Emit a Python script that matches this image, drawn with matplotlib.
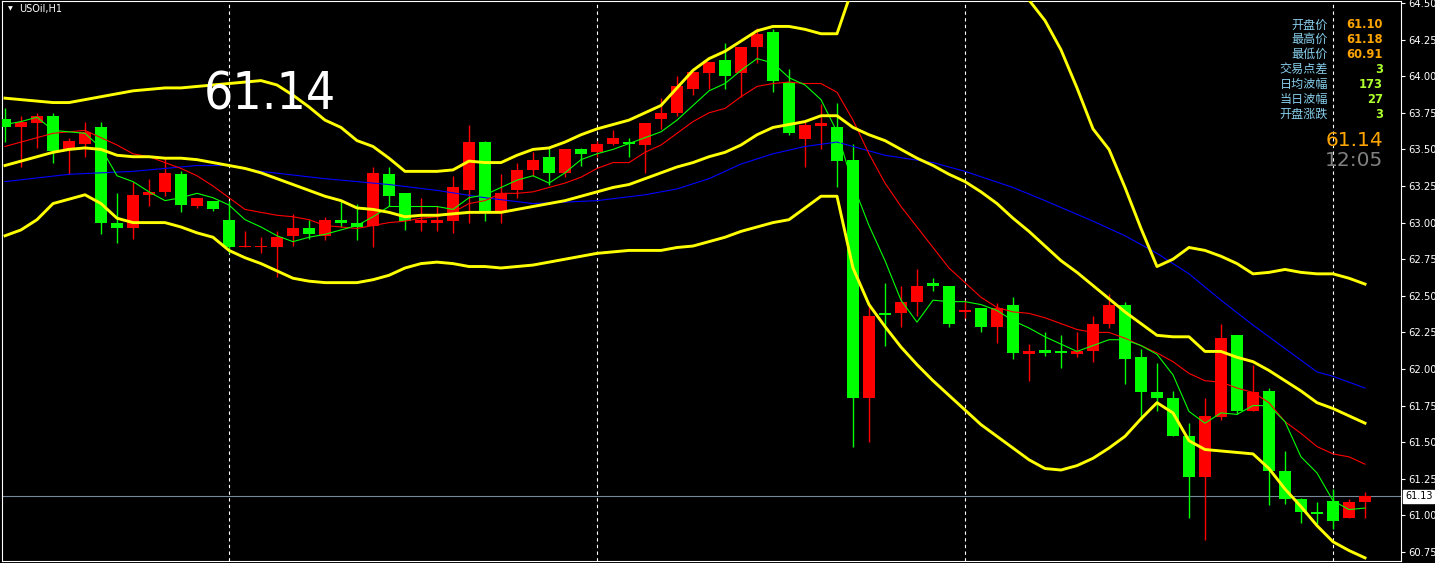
import matplotlib
matplotlib.use('Agg')
import matplotlib.pyplot as plt
import numpy as np
from matplotlib.transforms import blended_transform_factory

# ---------------- data (USOil, H1) ----------------
opens = [63.71, 63.65, 63.68, 63.73, 63.50, 63.54, 63.65, 63.00, 62.96, 63.19,
         63.21, 63.33, 63.11, 63.15, 63.02, 62.83, 62.83, 62.83, 62.91, 62.96,
         62.91, 63.02, 63.00, 62.98, 63.33, 63.20, 63.00, 63.00, 63.01, 63.22,
         63.55, 63.07, 63.22, 63.36, 63.45, 63.34, 63.50, 63.48, 63.54, 63.55,
         63.53, 63.71, 63.75, 63.91, 64.02, 64.11, 64.02, 64.20, 64.30, 63.96,
         63.57, 63.66, 63.65, 63.43, 61.80, 62.38, 62.38, 62.46, 62.59, 62.57,
         62.39, 62.42, 62.29, 62.44, 62.10, 62.13, 62.12, 62.10, 62.12, 62.31,
         62.44, 62.08, 61.84, 61.80, 61.54, 61.26, 61.67, 62.23, 61.71, 61.85,
         61.30, 61.11, 61.02, 61.10, 60.98, 61.09]
highs = [63.78, 63.73, 63.75, 63.75, 63.58, 63.69, 63.69, 63.20, 63.28, 63.30,
         63.44, 63.35, 63.17, 63.15, 63.15, 62.94, 62.90, 62.94, 63.06, 63.02,
         63.04, 63.15, 63.13, 63.38, 63.38, 63.20, 63.17, 63.11, 63.32, 63.67,
         63.56, 63.33, 63.41, 63.48, 63.51, 63.50, 63.51, 63.56, 63.63, 63.58,
         63.68, 63.85, 64.00, 64.03, 64.10, 64.23, 64.20, 64.33, 64.32, 64.05,
         63.69, 63.81, 63.82, 63.54, 62.45, 62.59, 62.57, 62.68, 62.62, 62.57,
         62.47, 62.42, 62.45, 62.49, 62.17, 62.25, 62.23, 62.25, 62.36, 62.51,
         62.46, 62.14, 62.04, 61.85, 61.63, 61.80, 62.31, 62.23, 62.03, 61.87,
         61.44, 61.12, 61.09, 61.18, 61.11, 61.16]
lows = [63.55, 63.38, 63.51, 63.41, 63.33, 63.45, 62.92, 62.86, 62.89, 63.11,
        63.18, 63.07, 63.10, 63.08, 62.79, 62.83, 62.79, 62.63, 62.84, 62.89,
        62.88, 62.97, 62.88, 62.83, 63.11, 62.95, 62.94, 62.94, 62.93, 63.00,
        63.01, 63.00, 63.17, 63.32, 63.26, 63.31, 63.39, 63.45, 63.53, 63.45,
        63.34, 63.64, 63.73, 63.87, 63.91, 63.91, 63.86, 64.09, 63.89, 63.60,
        63.38, 63.50, 63.24, 61.47, 61.50, 62.16, 62.29, 62.36, 62.53, 62.29,
        62.35, 62.25, 62.18, 62.07, 61.92, 62.09, 62.01, 62.08, 62.05, 62.28,
        61.90, 61.65, 61.71, 61.54, 60.98, 60.83, 61.65, 61.69, 61.71, 61.07,
        61.08, 60.95, 60.94, 60.91, 60.98, 60.98]
closes = [63.65, 63.69, 63.73, 63.49, 63.56, 63.62, 63.00, 62.96, 63.19, 63.21,
          63.34, 63.12, 63.17, 63.09, 62.83, 62.84, 62.84, 62.90, 62.96, 62.92,
          63.02, 63.00, 62.97, 63.34, 63.18, 63.01, 63.02, 63.02, 63.24, 63.55,
          63.08, 63.20, 63.36, 63.43, 63.34, 63.50, 63.47, 63.54, 63.58, 63.54,
          63.68, 63.75, 63.93, 64.03, 64.10, 64.00, 64.20, 64.29, 63.97, 63.61,
          63.67, 63.68, 63.42, 61.80, 62.36, 62.37, 62.46, 62.57, 62.57, 62.31,
          62.40, 62.29, 62.42, 62.11, 62.12, 62.11, 62.11, 62.12, 62.31, 62.44,
          62.07, 61.84, 61.80, 61.54, 61.26, 61.68, 62.21, 61.71, 61.84, 61.30,
          61.11, 61.02, 61.01, 60.96, 61.09, 61.13]

# fast MA (green), slow MA (red)
ma_fast = [63.67, 63.69, 63.72, 63.63, 63.62, 63.61, 63.51, 63.32, 63.28, 63.21,
           63.15, 63.17, 63.20, 63.17, 63.12, 63.02, 62.97, 62.91, 62.87, 62.90,
           62.92, 62.95, 62.98, 63.04, 63.11, 63.11, 63.11, 63.11, 63.09, 63.17,
           63.19, 63.24, 63.29, 63.32, 63.27, 63.34, 63.43, 63.47, 63.50, 63.54,
           63.58, 63.62, 63.70, 63.80, 63.90, 63.95, 64.04, 64.12, 64.09, 63.99,
           63.94, 63.84, 63.62, 63.26, 62.98, 62.74, 62.47, 62.32, 62.47, 62.46,
           62.46, 62.44, 62.40, 62.33, 62.28, 62.22, 62.17, 62.12, 62.16, 62.20,
           62.20, 62.16, 62.10, 61.96, 61.71, 61.63, 61.70, 61.69, 61.75, 61.75,
           61.64, 61.40, 61.29, 61.10, 61.04, 61.05]
ma_slow = [63.52, 63.55, 63.58, 63.61, 63.62, 63.63, 63.58, 63.53, 63.47, 63.45,
           63.41, 63.37, 63.32, 63.25, 63.17, 63.09, 63.07, 63.05, 63.04, 63.02,
           62.98, 62.97, 62.96, 62.98, 63.00, 63.01, 63.03, 63.04, 63.07, 63.13,
           63.15, 63.20, 63.20, 63.21, 63.24, 63.27, 63.31, 63.37, 63.41, 63.41,
           63.48, 63.53, 63.61, 63.69, 63.75, 63.78, 63.86, 63.93, 63.95, 63.96,
           63.95, 63.95, 63.89, 63.70, 63.47, 63.27, 63.11, 62.97, 62.83, 62.69,
           62.59, 62.49, 62.42, 62.39, 62.38, 62.35, 62.31, 62.27, 62.25, 62.25,
           62.21, 62.16, 62.11, 62.05, 61.97, 61.92, 61.91, 61.87, 61.84, 61.77,
           61.64, 61.56, 61.47, 61.42, 61.40, 61.35]

# long MA (blue), sampled bars
ma_long_bars = [0, 4, 8, 12, 14, 16, 20, 24, 27, 30, 33, 37, 40, 42, 44, 46, 48, 50,
                52, 53, 55, 58, 60, 63, 65, 68, 70, 72, 74, 76, 78, 80, 82, 83, 85]
ma_long = [63.28, 63.33, 63.35, 63.39, 63.39, 63.35, 63.30, 63.26, 63.22, 63.17,
           63.13, 63.15, 63.19, 63.23, 63.30, 63.40, 63.47, 63.52, 63.55, 63.52,
           63.46, 63.41, 63.35, 63.24, 63.15, 63.01, 62.91, 62.79, 62.65, 62.47,
           62.30, 62.14, 61.98, 61.95, 61.87]

# Bollinger bands (yellow)
bb_upper = [63.85, 63.84, 63.83, 63.82, 63.82, 63.84, 63.86, 63.88, 63.90, 63.91,
            63.92, 63.92, 63.93, 63.94, 63.95, 63.96, 63.97, 63.94, 63.87, 63.79,
            63.70, 63.65, 63.56, 63.52, 63.44, 63.35, 63.35, 63.35, 63.36, 63.42,
            63.41, 63.41, 63.46, 63.50, 63.51, 63.55, 63.60, 63.64, 63.67, 63.70,
            63.75, 63.80, 63.92, 64.04, 64.12, 64.17, 64.24, 64.31, 64.34, 64.34,
            64.32, 64.29, 64.29, 64.61, 64.76, 64.83, 64.85, 64.85, 64.86, 64.84,
            64.84, 64.80, 64.72, 64.60, 64.52, 64.38, 64.18, 63.92, 63.64, 63.50,
            63.24, 62.96, 62.70, 62.75, 62.83, 62.81, 62.77, 62.72, 62.65, 62.66,
            62.68, 62.66, 62.65, 62.65, 62.62, 62.58]
bb_middle = [63.39, 63.42, 63.45, 63.48, 63.50, 63.51, 63.50, 63.46, 63.45, 63.45,
             63.44, 63.44, 63.43, 63.41, 63.39, 63.37, 63.34, 63.30, 63.26, 63.22,
             63.18, 63.15, 63.10, 63.09, 63.07, 63.04, 63.05, 63.05, 63.06, 63.07,
             63.07, 63.07, 63.09, 63.11, 63.13, 63.15, 63.18, 63.21, 63.24, 63.26,
             63.30, 63.34, 63.38, 63.41, 63.45, 63.48, 63.53, 63.60, 63.65, 63.67,
             63.69, 63.73, 63.73, 63.65, 63.60, 63.56, 63.50, 63.44, 63.39, 63.33,
             63.28, 63.21, 63.13, 63.03, 62.94, 62.84, 62.74, 62.66, 62.57, 62.48,
             62.39, 62.31, 62.23, 62.22, 62.22, 62.12, 62.12, 62.08, 62.05, 61.99,
             61.92, 61.85, 61.77, 61.73, 61.68, 61.63]
bb_lower = [62.91, 62.95, 63.02, 63.13, 63.16, 63.19, 63.13, 63.03, 63.00, 63.00,
            63.00, 62.97, 62.93, 62.90, 62.81, 62.76, 62.72, 62.67, 62.62, 62.60,
            62.59, 62.59, 62.59, 62.61, 62.64, 62.69, 62.72, 62.73, 62.72, 62.70,
            62.70, 62.69, 62.70, 62.71, 62.73, 62.75, 62.77, 62.79, 62.80, 62.81,
            62.81, 62.81, 62.83, 62.84, 62.87, 62.90, 62.94, 62.97, 63.00, 63.02,
            63.10, 63.18, 63.18, 62.69, 62.44, 62.29, 62.15, 62.03, 61.92, 61.82,
            61.72, 61.62, 61.54, 61.46, 61.38, 61.32, 61.31, 61.34, 61.39, 61.46,
            61.54, 61.66, 61.77, 61.70, 61.51, 61.45, 61.44, 61.43, 61.42, 61.32,
            61.18, 61.06, 60.93, 60.82, 60.76, 60.71]

day_separator_bars = [14, 37, 60, 83]
bid_price = 61.13
price_ticks = [60.75, 61.00, 61.25, 61.50, 61.75, 62.00, 62.25, 62.50,
               62.75, 63.00, 63.25, 63.50, 63.75, 64.00, 64.25, 64.50]

symbol_label = 'USOil,H1'
big_price_label = '61.14'
info_labels = ['开盘价', '最高价', '最低价', '交易点差', '日均波幅', '当日波幅', '开盘涨跌']
info_values = ['61.10', '61.18', '60.91', '3', '173', '27', '3']
last_price_label = '61.14'
time_label = '12:05'

# ---------------- drawing ----------------
W, H = 1435, 563
fig = plt.figure(figsize=(W / 100, H / 100), dpi=100, facecolor='black')
ax = fig.add_axes([2 / W, 2 / H, 1399 / W, 560 / H])
ax.set_facecolor('black')

o = np.array(opens); c = np.array(closes)
hi = np.array(highs); lo = np.array(lows)
xs = np.arange(len(o))
up = c > o
col = np.where(up, '#FF0000', '#00FF00')
body_bottom = np.minimum(o, c)
body_h = np.maximum(np.abs(c - o), 0.012)

ax.vlines(xs, lo, hi, colors=col, linewidth=1.0, zorder=2)
ax.bar(xs, body_h, bottom=body_bottom, width=0.69, color=col, linewidth=0, zorder=3)

for b in day_separator_bars:
    ax.axvline(b, color='white', linewidth=0.8, linestyle=(0, (3, 3)), zorder=1)

ax.axhline(bid_price, color='#778899', linewidth=0.8, zorder=1.5)

ax.plot(ma_long_bars, ma_long, color='#0000FF', linewidth=0.8, zorder=4)
ax.plot(xs, ma_slow, color='#FF0000', linewidth=0.8, zorder=4)
ax.plot(xs, ma_fast, color='#00FF00', linewidth=0.8, zorder=4)
for band in (bb_upper, bb_middle, bb_lower):
    ax.plot(xs, band, color='#FFFF00', linewidth=2.1, zorder=5)

ax.set_xlim(-0.1875, 87.25)
ax.set_ylim(60.6885, 64.5137)
ax.set_xticks([])
ax.yaxis.tick_right()
ax.set_yticks(price_ticks)
ax.set_yticklabels([f'{t:.2f}' for t in price_ticks])
ax.tick_params(axis='y', colors='white', labelsize=7.2, length=3, width=0.8,
               pad=2, direction='out')
for s in ax.spines.values():
    s.set_color('white')
    s.set_linewidth(0.8)

# bid price box on axis
tr = blended_transform_factory(ax.transAxes, ax.transData)
ax.text(1.0 + 4 / 1399, bid_price, f'{bid_price:.2f}', transform=tr, ha='left',
        va='center', fontsize=7.0, color='black', zorder=10,
        bbox=dict(facecolor='white', edgecolor='white', pad=1.2))

def fx(px):
    return px / W

def fy(py):
    return 1 - py / H

# symbol label
fig.text(fx(8), fy(9), '▼', fontsize=4.5, color='white', ha='left', va='center')
fig.text(fx(19), fy(9), symbol_label, fontsize=7, color='white', ha='left', va='center')

# big price
fig.text(fx(204), fy(110), big_price_label, fontsize=37, color='white',
         ha='left', va='baseline', fontstretch='condensed')

# info panel
cjk = ['Noto Sans CJK SC', 'DejaVu Sans']
for k, (lab, val) in enumerate(zip(info_labels, info_values)):
    yc = 25 + 14.85 * k
    fig.text(fx(1328), fy(yc), lab, fontsize=8.7, color='#87CEEB', ha='right',
             va='center', family=cjk)
    fig.text(fx(1383), fy(yc), val, fontsize=8.3, fontweight='bold',
             color='#FFA500' if k < 3 else '#ADFF2F', ha='right', va='center')

fig.text(fx(1383), fy(140), last_price_label, fontsize=14.5, color='#FFA500',
         ha='right', va='center')
fig.text(fx(1383), fy(160), time_label, fontsize=14.5, color='#808080',
         ha='right', va='center')

fig.savefig('out.png', dpi=100, facecolor='black')
